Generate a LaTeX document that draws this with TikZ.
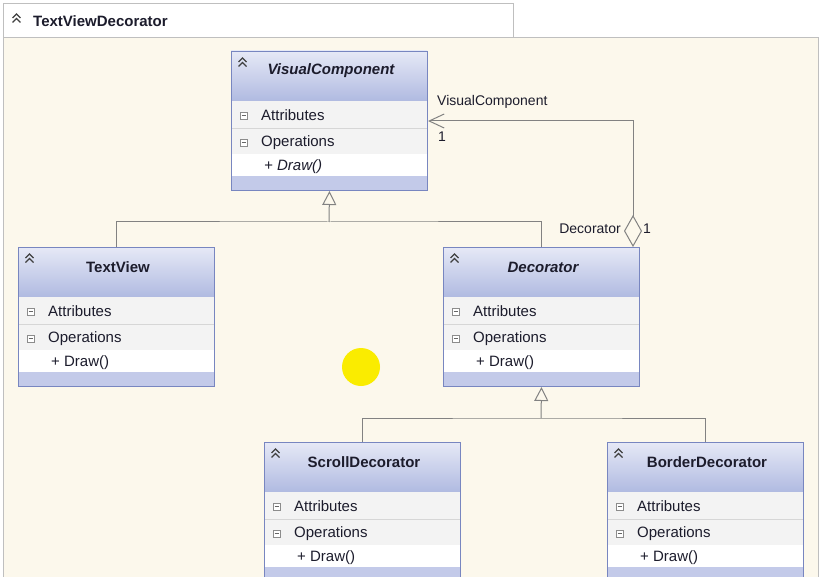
\documentclass[tikz,border=0pt]{standalone}
\usepackage{fontspec}
\setmainfont{Liberation Sans}
\usetikzlibrary{arrows.meta,positioning}
\definecolor{paper}{RGB}{252,248,236}
\definecolor{umlframe}{RGB}{120,134,192}
\definecolor{umltop}{RGB}{230,233,246}
\definecolor{umlbottom}{RGB}{176,186,225}
\definecolor{umlfoot}{RGB}{195,202,233}
\definecolor{rowgrey}{RGB}{243,243,243}
\definecolor{rowline}{RGB}{214,214,214}
\definecolor{linkgrey}{RGB}{130,130,130}
\definecolor{textdark}{RGB}{28,28,44}
\definecolor{marker}{RGB}{250,236,0}

\begin{document}
\begin{tikzpicture}[x=1pt,y=-1pt,
    font=\fontsize{15}{18}\selectfont,
    classbox/.style={draw=umlframe,line width=1,minimum width=196,minimum height=139,inner sep=0,anchor=north west},
    header/.style={top color=umltop,bottom color=umlbottom},
    classtitle/.style={inner sep=0,text=textdark,font=\fontsize{15}{18}\selectfont\bfseries},
    rowtext/.style={anchor=west,inner sep=0,text=textdark},
    foldmark/.style={draw=black!75,line width=1.3},
    minusbox/.style={draw=black!45,line width=0.8,fill=white},
    link/.style={draw=linkgrey,line width=1},
    rolelabel/.style={inner sep=0,text=textdark,font=\fontsize{14}{17}\selectfont}]

    \useasboundingbox (0,0) rectangle (826,577);
    \fill[white] (0,0) rectangle (826,577);
    \draw[draw=black!25, fill=paper] (3,37) rectangle (818,590);
    \draw[draw=black!25, fill=white] (3,3) rectangle (513,37);
    \draw[foldmark] (12.5,18) -- (16.5,14) -- (20.5,18);
    \draw[foldmark] (12.5,22.5) -- (16.5,18.5) -- (20.5,22.5);
    \node[classtitle, anchor=west] (diagramtitle) at (33,21) {TextViewDecorator};

    \fill[marker] (361,367) circle (19pt);

    \begin{scope}[shift={(231,51)}]
        \shade[header] (0,0) rectangle (196,50);
        \fill[rowgrey] (0,50) rectangle (196,103);
        \fill[white] (0,103) rectangle (196,125);
        \fill[umlfoot] (0,125) rectangle (196,139);
        \draw[rowline] (0,77) -- (196,77);
        \draw[foldmark] (7.5,11) -- (11.5,7) -- (15.5,11);
        \draw[foldmark] (7.5,15.5) -- (11.5,11.5) -- (15.5,15.5);
        \draw[minusbox] (9,61) rectangle (16,68);
        \draw[black!60] (10.5,64.5) -- (14.5,64.5);
        \draw[minusbox] (9,88) rectangle (16,95);
        \draw[black!60] (10.5,91.5) -- (14.5,91.5);
        \node[classtitle, font=\fontsize{15}{18}\selectfont\bfseries\itshape] at (100,20) {VisualComponent};
        \node[rowtext] at (30,64.5) {Attributes};
        \node[rowtext] at (30,91.5) {Operations};
        \node[rowtext] at (33,115.5) {\itshape + Draw()};
        \node[classbox] (visual) at (0,0) {};
    \end{scope}

    \begin{scope}[shift={(18,247)}]
        \shade[header] (0,0) rectangle (196,50);
        \fill[rowgrey] (0,50) rectangle (196,103);
        \fill[white] (0,103) rectangle (196,125);
        \fill[umlfoot] (0,125) rectangle (196,139);
        \draw[rowline] (0,77) -- (196,77);
        \draw[foldmark] (7.5,11) -- (11.5,7) -- (15.5,11);
        \draw[foldmark] (7.5,15.5) -- (11.5,11.5) -- (15.5,15.5);
        \draw[minusbox] (9,61) rectangle (16,68);
        \draw[black!60] (10.5,64.5) -- (14.5,64.5);
        \draw[minusbox] (9,88) rectangle (16,95);
        \draw[black!60] (10.5,91.5) -- (14.5,91.5);
        \node[classtitle] at (100,20) {TextView};
        \node[rowtext] at (30,64.5) {Attributes};
        \node[rowtext] at (30,91.5) {Operations};
        \node[rowtext] at (33,115.5) {+ Draw()};
        \node[classbox] (tview) at (0,0) {};
    \end{scope}

    \begin{scope}[shift={(443,247)}]
        \shade[header] (0,0) rectangle (196,50);
        \fill[rowgrey] (0,50) rectangle (196,103);
        \fill[white] (0,103) rectangle (196,125);
        \fill[umlfoot] (0,125) rectangle (196,139);
        \draw[rowline] (0,77) -- (196,77);
        \draw[foldmark] (7.5,11) -- (11.5,7) -- (15.5,11);
        \draw[foldmark] (7.5,15.5) -- (11.5,11.5) -- (15.5,15.5);
        \draw[minusbox] (9,61) rectangle (16,68);
        \draw[black!60] (10.5,64.5) -- (14.5,64.5);
        \draw[minusbox] (9,88) rectangle (16,95);
        \draw[black!60] (10.5,91.5) -- (14.5,91.5);
        \node[classtitle, font=\fontsize{15}{18}\selectfont\bfseries\itshape] at (100,20) {Decorator};
        \node[rowtext] at (30,64.5) {Attributes};
        \node[rowtext] at (30,91.5) {Operations};
        \node[rowtext] at (33,115.5) {+ Draw()};
        \node[classbox] (deco) at (0,0) {};
    \end{scope}

    \begin{scope}[shift={(264,442)}]
        \shade[header] (0,0) rectangle (196,50);
        \fill[rowgrey] (0,50) rectangle (196,103);
        \fill[white] (0,103) rectangle (196,125);
        \fill[umlfoot] (0,125) rectangle (196,139);
        \draw[rowline] (0,77) -- (196,77);
        \draw[foldmark] (7.5,11) -- (11.5,7) -- (15.5,11);
        \draw[foldmark] (7.5,15.5) -- (11.5,11.5) -- (15.5,15.5);
        \draw[minusbox] (9,61) rectangle (16,68);
        \draw[black!60] (10.5,64.5) -- (14.5,64.5);
        \draw[minusbox] (9,88) rectangle (16,95);
        \draw[black!60] (10.5,91.5) -- (14.5,91.5);
        \node[classtitle] at (100,20) {ScrollDecorator};
        \node[rowtext] at (30,64.5) {Attributes};
        \node[rowtext] at (30,91.5) {Operations};
        \node[rowtext] at (33,115.5) {+ Draw()};
        \node[classbox] (scroll) at (0,0) {};
    \end{scope}

    \begin{scope}[shift={(607,442)}]
        \shade[header] (0,0) rectangle (196,50);
        \fill[rowgrey] (0,50) rectangle (196,103);
        \fill[white] (0,103) rectangle (196,125);
        \fill[umlfoot] (0,125) rectangle (196,139);
        \draw[rowline] (0,77) -- (196,77);
        \draw[foldmark] (7.5,11) -- (11.5,7) -- (15.5,11);
        \draw[foldmark] (7.5,15.5) -- (11.5,11.5) -- (15.5,15.5);
        \draw[minusbox] (9,61) rectangle (16,68);
        \draw[black!60] (10.5,64.5) -- (14.5,64.5);
        \draw[minusbox] (9,88) rectangle (16,95);
        \draw[black!60] (10.5,91.5) -- (14.5,91.5);
        \node[classtitle] at (100,20) {BorderDecorator};
        \node[rowtext] at (30,64.5) {Attributes};
        \node[rowtext] at (30,91.5) {Operations};
        \node[rowtext] at (33,115.5) {+ Draw()};
        \node[classbox] (border) at (0,0) {};
    \end{scope}

    \coordinate (split1) at (329,222);
    \draw[link] (tview.north) |- (split1) -| (deco.north);
    \draw[link, -{Triangle[open, length=14pt, width=14pt]}] (split1) -- (visual.south);

    \coordinate (split2) at (541,418);
    \draw[link] (scroll.north) |- (split2) -| (border.north);
    \draw[link, -{Triangle[open, length=14pt, width=14pt]}] (split2) -- (deco.south);

    \coordinate (aggr) at ([xshift=-7pt]deco.north east);
    \draw[link, {Diamond[open, length=32pt, width=18pt]}-{Straight Barb[length=15pt, width=14pt]}] (aggr) |- (visual.east);

    \node[rolelabel, anchor=west] (rolevisual) at (437,102) {VisualComponent};
    \node[rolelabel] (multvisual) at (442,137) {1};
    \node[rolelabel, anchor=east] (roledeco) at (621,229) {Decorator};
    \node[rolelabel] (multdeco) at (647,229) {1};
\end{tikzpicture}
\end{document}
